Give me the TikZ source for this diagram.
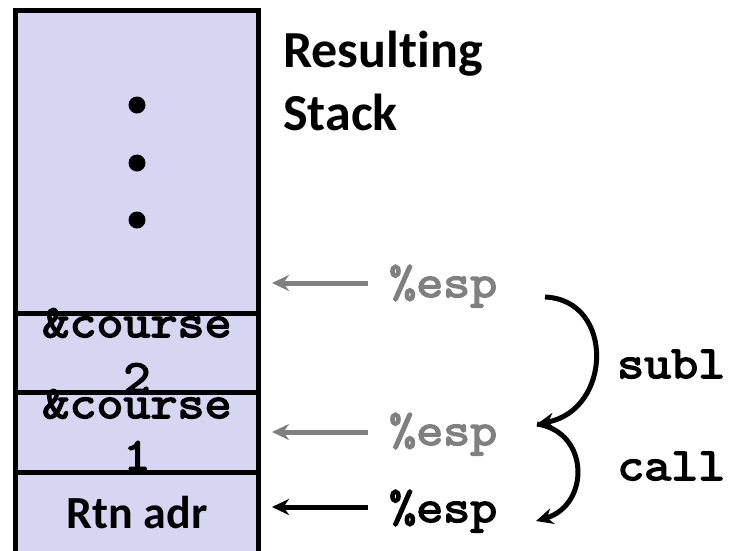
\documentclass[tikz,border=0pt]{standalone}
\usepackage{fontspec}
\setmainfont[Ligatures=NoCommon]{Carlito}
\newfontfamily\courfont[FakeStretch=1.14, FakeBold=3.5]{Latin Modern Mono}
\usetikzlibrary{arrows.meta}
\definecolor{stackfill}{RGB}{214,214,242}
\definecolor{espgray}{RGB}{128,128,128}

\begin{document}
\begin{tikzpicture}[x=1pt, y=-1pt,
    cell/.style={draw=black, line width=5pt, fill=stackfill},
    title/.style={font=\fontsize{52}{63}\selectfont\bfseries, anchor=base west, inner sep=0pt},
    lbl/.style={font=\fontsize{46}{54}\selectfont\bfseries, anchor=base, inner sep=0pt},
    code/.style={font=\fontsize{46}{54}\selectfont\courfont, anchor=base west, inner sep=0pt},
    slot/.style={font=\fontsize{46}{54}\selectfont\courfont, anchor=base, inner sep=0pt},
    ptr/.style={-{Stealth[length=17pt, width=16pt]}, line width=5pt},
]
    \clip (0,0) rectangle (733,550);

    % stack cells
    \draw[cell] (15,10) rectangle (258,313);
    \draw[cell] (15,313) rectangle (258,392);
    \draw[cell] (15,392) rectangle (258,472);
    \draw[cell] (15,472) rectangle (258,580);
    \foreach \y in {105,163,220}
        \fill (137,\y) circle (8.5);

    % cell contents
    \node[slot] (c2a) at (137,337) {\&course};
    \node[slot] (c2b) at (137,392) {2};
    \node[slot] (c1a) at (137,418) {\&course};
    \node[slot] (c1b) at (137,470) {1};
    \node[lbl]  (rtn) at (137,528) {Rtn adr};

    \node[title] (res) at (283,67)  {Resulting};
    \node[title] (stk) at (283,130) {Stack};

    % stack pointers
    \node[code, text=espgray] (esp0) at (389,297) {\%esp};
    \node[code, text=espgray] (esp1) at (389,445) {\%esp};
    \node[code]               (esp2) at (389,522) {\%esp};
    \coordinate (tip0) at (272,283);
    \coordinate (tip1) at (272,432);
    \coordinate (tip2) at (272,507);
    \draw[ptr, espgray] (tip0 -| esp0.west) ++(-21,0) -- (tip0);
    \draw[ptr, espgray] (tip1 -| esp1.west) ++(-21,0) -- (tip1);
    \draw[ptr]          (tip2 -| esp2.west) ++(-21,0) -- (tip2);

    % instructions
    \node[code] (subl) at (617,378) {subl};
    \node[code] (call) at (617,480) {call};
    \coordinate (hop0) at (545,297);
    \coordinate (hop1) at (537,424);
    \coordinate (hop2) at (536,521);
    \draw[ptr] (hop0) .. controls (615,300) and (612,410) .. (hop1);
    \draw[ptr] (hop1) .. controls (590,432) and (590,505) .. (hop2);
\end{tikzpicture}
\end{document}
